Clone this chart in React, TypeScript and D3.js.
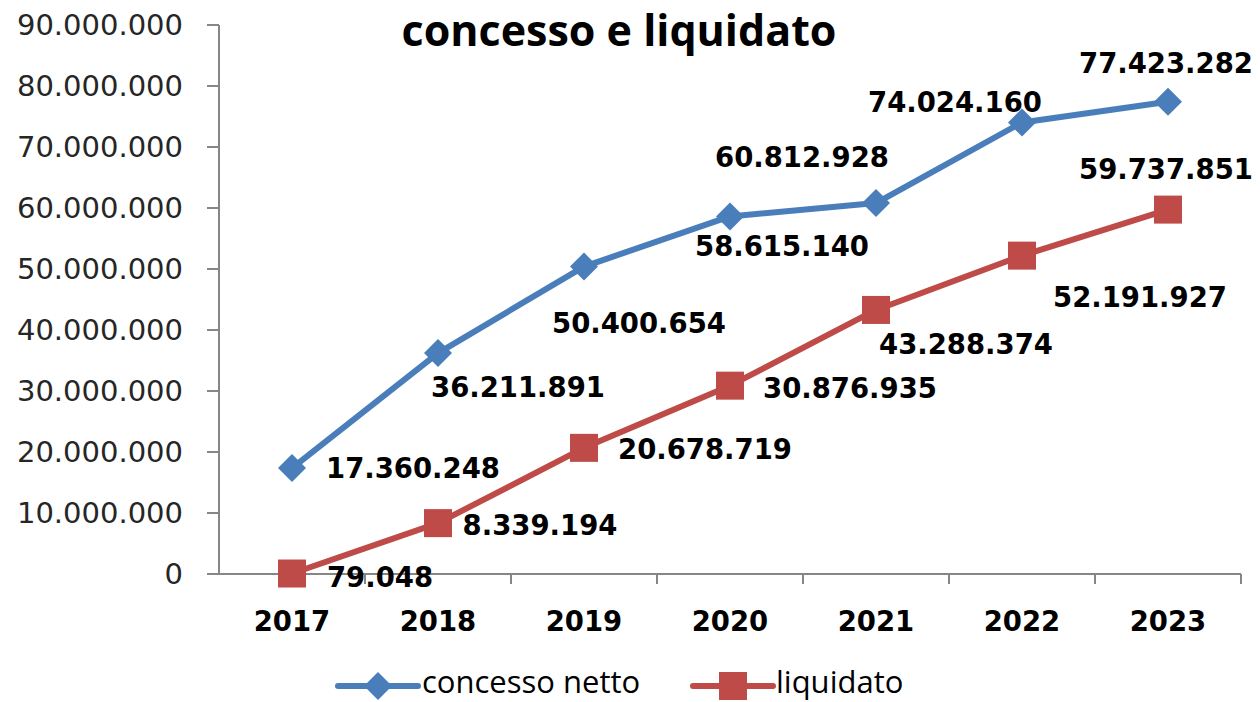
import React from "react";
import * as d3 from "d3";

const years = ["2017", "2018", "2019", "2020", "2021", "2022", "2023"];
const concessoNetto = [17360248, 36211891, 50400654, 58615140, 60812928, 74024160, 77423282];
const liquidato = [79048, 8339194, 20678719, 30876935, 43288374, 52191927, 59737851];
const yTicks = [0, 10000000, 20000000, 30000000, 40000000, 50000000, 60000000, 70000000, 80000000, 90000000];
const title = "concesso e liquidato";
const seriesNames = ["concesso netto", "liquidato"];

// layout: label offsets (px) relative to each point
const blueLabelOffsets: [number, number][] = [
  [121, 0], [80, 34], [55, 56], [52, 30], [-74, -46], [-67, -20], [-2, -39],
];
const redLabelOffsets: [number, number][] = [
  [88, 3], [102, 2], [121, 1], [120, 2], [90, 34], [118, 41], [-2, -41],
];

const W = 1260;
const H = 702;
const BLUE = "#4A7EBB";
const RED = "#BE4B48";
const AXIS = "#868686";
const fmt = (v: number) => d3.format(",")(v).replace(/,/g, ".");

export default function App() {
  const x = d3.scaleBand<string>().domain(years).range([219, 1241]);
  const y = d3.scaleLinear().domain([0, 90000000]).range([574, 25]);
  const cx = (d: string) => (x(d) as number) + x.bandwidth() / 2;
  const line = d3
    .line<number>()
    .x((_, i) => cx(years[i]))
    .y((v) => y(v));
  const diamond = (px: number, py: number, r: number) =>
    `M${px},${py - r}L${px + r},${py}L${px},${py + r}L${px - r},${py}Z`;
  const dataFont = "'DejaVu Sans', Verdana, sans-serif";
  const labelStyle = { fontFamily: dataFont, fontWeight: 700, fontSize: 27.5, fill: "#000" } as const;
  return (
    <svg width={W} height={H} style={{ position: "absolute", left: 0, top: 0, background: "#fff" }}>
      <rect width={W} height={H} fill="#fff" />
      {/* y axis */}
      <line x1={219} x2={219} y1={y(90000000)} y2={y(0)} stroke={AXIS} strokeWidth={2} />
      {yTicks.map((t) => (
        <g key={t}>
          <line x1={207} x2={219} y1={y(t)} y2={y(t)} stroke={AXIS} strokeWidth={2} />
          <text
            x={183}
            y={y(t)}
            textAnchor="end"
            dominantBaseline="central"
            style={{ fontFamily: dataFont, fontSize: 29, fill: "#262626" }}
          >
            {fmt(t)}
          </text>
        </g>
      ))}
      {/* x axis */}
      <line x1={219} x2={1241} y1={y(0)} y2={y(0)} stroke={AXIS} strokeWidth={2} />
      {years.map((yr) => (
        <line
          key={"t" + yr}
          x1={(x(yr) as number) + x.bandwidth()}
          x2={(x(yr) as number) + x.bandwidth()}
          y1={y(0)}
          y2={y(0) + 10}
          stroke={AXIS}
          strokeWidth={2}
        />
      ))}
      {years.map((yr) => (
        <text
          key={"l" + yr}
          x={cx(yr)}
          y={621}
          textAnchor="middle"
          dominantBaseline="central"
          style={{ fontFamily: dataFont, fontWeight: 700, fontSize: 27.5, fill: "#000" }}
        >
          {yr}
        </text>
      ))}
      {/* title */}
      <text
        x={619}
        y={46}
        textAnchor="middle"
        style={{ fontFamily: "'Open Sans', sans-serif", fontWeight: 700, fontSize: 43, fill: "#000" }}
      >
        {title}
      </text>
      {/* series lines */}
      <path d={line(concessoNetto) || ""} fill="none" stroke={BLUE} strokeWidth={6} strokeLinejoin="round" />
      <path d={line(liquidato) || ""} fill="none" stroke={RED} strokeWidth={6} strokeLinejoin="round" />
      {concessoNetto.map((v, i) => (
        <path key={"bd" + i} d={diamond(cx(years[i]), y(v), 14)} fill={BLUE} />
      ))}
      {liquidato.map((v, i) => (
        <rect key={"rs" + i} x={cx(years[i]) - 14} y={y(v) - 14} width={28} height={28} fill={RED} />
      ))}
      {/* data labels */}
      {concessoNetto.map((v, i) => (
        <text
          key={"bl" + i}
          x={cx(years[i]) + blueLabelOffsets[i][0]}
          y={y(v) + blueLabelOffsets[i][1]}
          textAnchor="middle"
          dominantBaseline="central"
          style={labelStyle}
        >
          {fmt(v)}
        </text>
      ))}
      {liquidato.map((v, i) => (
        <text
          key={"rl" + i}
          x={cx(years[i]) + redLabelOffsets[i][0]}
          y={y(v) + redLabelOffsets[i][1]}
          textAnchor="middle"
          dominantBaseline="central"
          style={labelStyle}
        >
          {fmt(v)}
        </text>
      ))}
      {/* legend */}
      <line x1={338} x2={418} y1={686} y2={686} stroke={BLUE} strokeWidth={6} strokeLinecap="round" />
      <path d={diamond(378, 686, 14)} fill={BLUE} />
      <text
        x={422}
        y={693}
        style={{ fontFamily: "'Open Sans', sans-serif", fontSize: 31, fill: "#000" }}
      >
        {seriesNames[0]}
      </text>
      <line x1={693} x2={773} y1={686} y2={686} stroke={RED} strokeWidth={6} strokeLinecap="round" />
      <rect x={733 - 14} y={686 - 14} width={28} height={28} fill={RED} />
      <text
        x={776}
        y={693}
        style={{ fontFamily: "'Open Sans', sans-serif", fontSize: 31, fill: "#000" }}
      >
        {seriesNames[1]}
      </text>
    </svg>
  );
}
